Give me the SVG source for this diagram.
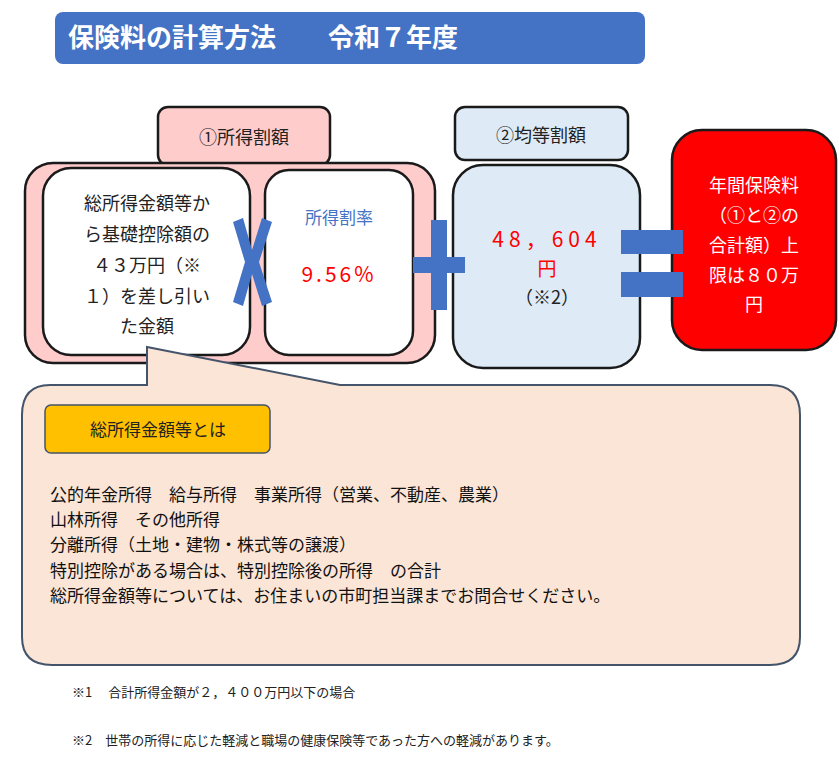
<svg xmlns="http://www.w3.org/2000/svg" width="839" height="769" viewBox="0 0 839 769">
<style>
text{font-family:"Noto Sans CJK JP","Noto Sans",sans-serif}
.b{stroke:#1a1a1a;stroke-width:2.5}
.t{font-size:18px;fill:#222;text-anchor:middle}
.s{font-size:13px;fill:#222}
</style>
<rect width="839" height="769" fill="#fff"/>
<g id="title"><rect x="55" y="12" width="590" height="52" rx="8" fill="#4472C4"/>
<text x="68" y="47" font-size="26" font-weight="bold" fill="#fff">保険料の計算方法　　令和７年度</text></g>
<g id="income"><rect x="158" y="107" width="172" height="58" rx="10" fill="#FFCCCC" class="b"/>
<text x="244" y="144" class="t">①所得割額</text>
<rect x="25" y="163" width="410" height="200" rx="28" fill="#FFCCCC" class="b"/>
<rect x="43" y="168" width="207" height="187" rx="28" fill="#fff" class="b"/>
<g class="t" font-size="17"><text x="147" y="210">総所得金額等か</text><text x="147" y="241">ら基礎控除額の</text><text x="147" y="272">４３万円（※</text><text x="147" y="303">１）を差し引い</text><text x="147" y="333">た金額</text></g>
<rect x="265" y="170" width="148" height="185" rx="24" fill="#fff" class="b"/>
<text x="339" y="224" font-size="17" fill="#4472C4" text-anchor="middle">所得割率</text>
<text x="339" y="282" font-size="21" fill="#FF0000" text-anchor="middle" letter-spacing="3">9.56%</text></g>
<g id="callout"><path d="M50 385 H147 V347 L340 385 H770 Q800 385 800 415 V637 Q800 665 770 665 H52 Q22 665 22 637 V415 Q22 385 50 385 Z" fill="#FBE5D6" stroke="#44546A" stroke-width="2"/>
<rect x="45" y="405" width="225" height="48" rx="6" fill="#FFC000" stroke="#44546A" stroke-width="1.5"/>
<text x="158" y="436" font-size="17" fill="#222" text-anchor="middle">総所得金額等とは</text>
<g font-size="17" fill="#111"><text x="50" y="501">公的年金所得　給与所得　事業所得（営業、不動産、農業）</text>
<text x="50" y="526">山林所得　その他所得</text>
<text x="50" y="551">分離所得（土地・建物・株式等の譲渡）</text>
<text x="50" y="577">特別控除がある場合は、特別控除後の所得　の合計</text>
<text x="50" y="602">総所得金額等については、お住まいの市町担当課までお問合せください。</text></g></g>
<g id="equal"><rect x="455" y="107" width="173" height="53" rx="10" fill="#DEEBF7" class="b"/>
<text x="541" y="142" class="t">②均等割額</text>
<rect x="453" y="165" width="187" height="203" rx="30" fill="#DEEBF7" class="b"/>
<text x="547" y="247" font-size="21" fill="#FF0000" text-anchor="middle" letter-spacing="5">48，604</text>
<text x="547" y="276" font-size="19" fill="#FF0000" text-anchor="middle">円</text>
<text x="547" y="304" font-size="18" fill="#222" text-anchor="middle">（※2）</text></g>
<g id="total"><rect x="672" y="130" width="164" height="220" rx="30" fill="#FF0000" class="b"/>
<g font-size="18" fill="#fff" text-anchor="middle"><text x="754" y="192">年間保険料</text><text x="754" y="222">（①と②の</text><text x="754" y="252">合計額）上</text><text x="754" y="282">限は８０万</text><text x="754" y="311">円</text></g></g>
<g id="operators" fill="#4472C4">
<path d="M233 222 L243 218 L252 250 L262 218 L272 222 L259 262 L272 302 L262 306 L252 274 L243 306 L233 302 L245 262 Z"/>
<rect x="431" y="220" width="16" height="90"/><rect x="413" y="257" width="52" height="16"/>
<rect x="621" y="230" width="62" height="24"/><rect x="621" y="272" width="62" height="25"/></g>
<g id="notes" class="s"><text x="72" y="697">※1　 合計所得金額が２，４００万円以下の場合</text>
<text x="72" y="745">※2　世帯の所得に応じた軽減と職場の健康保険等であった方への軽減があります。</text></g>
</svg>
